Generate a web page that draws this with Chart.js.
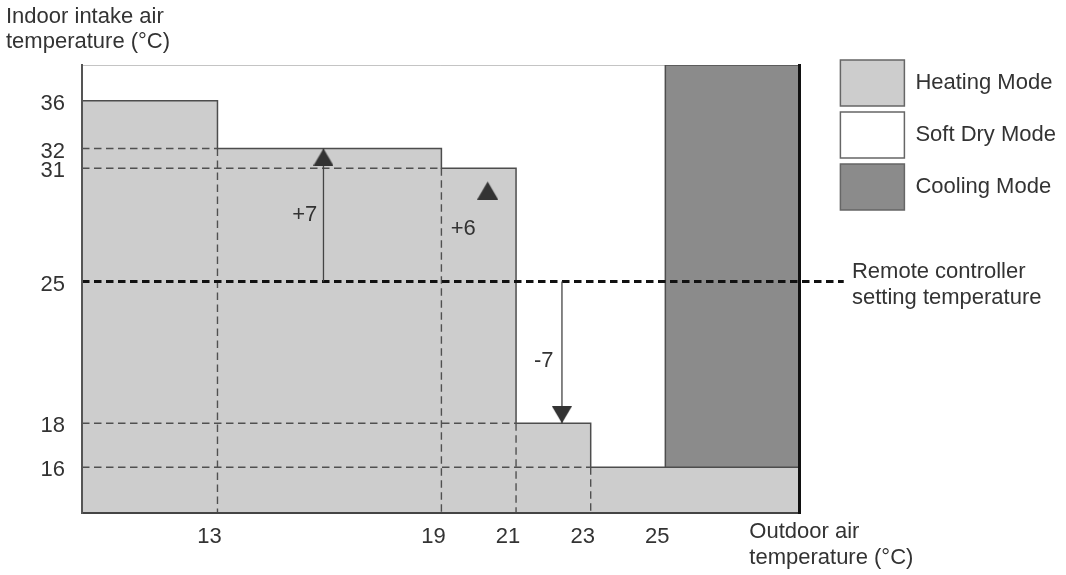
<!DOCTYPE html>
<html>
<head>
<meta charset="utf-8">
<script src="https://cdn.jsdelivr.net/npm/chart.js@4/dist/chart.umd.min.js"></script>
<style>html,body{margin:0;padding:0;background:#fff}canvas{display:block}</style>
</head>
<body>
<canvas id="c" width="1066" height="575"></canvas>
<script>
// ---------------- data ----------------
const xTicks = [13, 19, 21, 23, 25];              // outdoor air temperature ticks (°C)
const yTicks = [16, 18, 25, 31, 32, 36];          // indoor intake air temperature ticks (°C)
const heatingBreaks = [13, 19, 21, 23];           // outdoor temps where the heating limit steps down
const heatingLevels = [36, 32, 31, 18, 16];       // indoor upper limit of heating on each step
const coolingFrom = 25;                           // outdoor temp from which cooling applies
const coolingFloor = 16;                          // indoor temp above which cooling applies
const settingTemp = 25;                           // remote controller setting temperature
const shiftUp = {x: 15.84, from: 25, to: 32};     // +7 arrow
const shiftDown = {x: 22.23, from: 25, to: 18};   // -7 arrow
const shiftMarker = {x: 20.24, y: 30.3};          // +6 marker
const modeNames = ['Heating Mode', 'Soft Dry Mode', 'Cooling Mode'];
const notes = [
  {text: ['+7'], x: 15.675, y: 28.53, align: 'right'},
  {text: ['+6'], x: 19.25, y: 27.79, align: 'left'},
  {text: ['-7'], x: 21.48, y: 21.08, align: 'left'},
  {text: ['Remote controller', 'setting temperature'], x: 30.0, y: 25.52, align: 'left'}
];
const xTitle = {lines: ['Outdoor air', 'temperature (°C)'], at: 27.25};
const yTitle = ['Indoor intake air', 'temperature (°C)'];

// ---------------- axis ranges (schematic diagram) ----------------
const X_MIN = 9.37, X_MAX = 28.6, Y_MIN = 14, Y_MAX = 39;
const SETTING_LINE_END = 29.78;
// the source diagram's vertical axis is not to scale: piecewise mapping value -> fraction of height
const Y_KNOTS = [[14, 0], [16, 0.102], [18, 0.2002], [25, 0.5165], [31, 0.7694], [32, 0.8136], [36, 0.9203], [39, 1]];

function toFrac(v) {
  const k = Y_KNOTS; let i = 1;
  while (i < k.length - 1 && v > k[i][0]) i++;
  const [v0, f0] = k[i - 1], [v1, f1] = k[i];
  return f0 + (v - v0) * (f1 - f0) / (v1 - v0);
}
function fromFrac(f) {
  const k = Y_KNOTS; let i = 1;
  while (i < k.length - 1 && f > k[i][1]) i++;
  const [v0, f0] = k[i - 1], [v1, f1] = k[i];
  return v0 + (f - f0) * (v1 - v0) / (f1 - f0);
}
class SchematicScale extends Chart.LinearScale {
  getPixelForValue(value) { return this.getPixelForDecimal(toFrac(value)); }
  getValueForPixel(pixel) { return fromFrac(this.getDecimalForPixel(pixel)); }
}
SchematicScale.id = 'schematic';
SchematicScale.defaults = Chart.LinearScale.defaults;
Chart.register(SchematicScale);

const FONT = '"Liberation Sans", Arial, Helvetica, sans-serif';
const TEXT = '#333333';
Chart.defaults.font.family = FONT;
Chart.defaults.font.size = 22;
Chart.defaults.color = TEXT;

// arrow head image: tip at the centre, pointing up
function makeHead(w, h, color) {
  const c = document.createElement('canvas');
  c.width = w; c.height = 2 * h;
  const g = c.getContext('2d');
  g.fillStyle = color;
  g.beginPath(); g.moveTo(w / 2, h); g.lineTo(w, 2 * h); g.lineTo(0, 2 * h); g.closePath(); g.fill();
  return c;
}
const HEAD = makeHead(20, 17, '#333333');
const MARK = makeHead(21, 18, '#333333');

// ---------------- datasets ----------------
const heatingPoints = [{x: X_MIN, y: heatingLevels[0]}]
  .concat(heatingBreaks.map((b, i) => ({x: b, y: heatingLevels[i + 1]})))
  .concat([{x: X_MAX, y: heatingLevels[heatingLevels.length - 1]}]);

const base = {pointRadius: 0, tension: 0, fill: false};
const guides = [];
heatingBreaks.forEach((b, i) => {
  const lvl = heatingLevels[i + 1];
  [[{x: X_MIN, y: lvl}, {x: b, y: lvl}], [{x: b, y: lvl}, {x: b, y: Y_MIN}]].forEach(seg => {
    guides.push(Object.assign({}, base, {label: 'guide', data: seg, borderColor: '#505050', borderWidth: 1.4, borderDash: [7.5, 4.5], order: 2}));
  });
});

const datasets = [
  Object.assign({}, base, {label: modeNames[0], data: heatingPoints, stepped: 'before', fill: 'start',
    backgroundColor: '#cdcdcd', borderColor: '#4d4d4d', borderWidth: 1.5, order: 3, inLegend: true}),
  Object.assign({}, base, {label: modeNames[1], data: [{x: X_MIN, y: Y_MAX}, {x: X_MAX, y: Y_MAX}], fill: 'start',
    backgroundColor: '#ffffff', borderColor: '#8a8a8a', borderWidth: 1, order: 5, inLegend: true}),
  Object.assign({}, base, {label: modeNames[2], data: [{x: coolingFrom, y: coolingFloor}, {x: coolingFrom, y: Y_MAX}, {x: X_MAX, y: Y_MAX}],
    fill: {value: coolingFloor}, backgroundColor: '#8b8b8b', borderColor: '#4d4d4d', borderWidth: 1.5, order: 4, inLegend: true}),
  ...guides,
  Object.assign({}, base, {label: 'setting', data: [{x: X_MIN, y: settingTemp}, {x: SETTING_LINE_END, y: settingTemp}],
    borderColor: '#111111', borderWidth: 3, borderDash: [7.5, 4.5], clip: false, order: 1}),
  Object.assign({}, base, {label: '+7', data: [{x: shiftUp.x, y: shiftUp.from}, {x: shiftUp.x, y: shiftUp.to}],
    borderColor: '#444444', borderWidth: 1.3, pointRadius: [0, 1], pointStyle: HEAD, pointRotation: 0, order: 0}),
  Object.assign({}, base, {label: '-7', data: [{x: shiftDown.x, y: shiftDown.from}, {x: shiftDown.x, y: shiftDown.to}],
    borderColor: '#444444', borderWidth: 1.3, pointRadius: [0, 1], pointStyle: HEAD, pointRotation: 180, order: 0}),
  Object.assign({}, base, {label: '+6', data: [{x: shiftMarker.x, y: shiftMarker.y}], showLine: false,
    pointRadius: 1, pointStyle: MARK, order: 0})
];

// ---------------- text annotations ----------------
const notesPlugin = {
  id: 'notes',
  afterDatasetsDraw(chart) {
    const {ctx} = chart; const xs = chart.scales.x, ys = chart.scales.y;
    ctx.save();
    ctx.font = '22px ' + FONT; ctx.fillStyle = TEXT; ctx.textBaseline = 'middle';
    notes.forEach(n => {
      ctx.textAlign = n.align;
      const px = xs.getPixelForValue(n.x), py = ys.getPixelForValue(n.y);
      n.text.forEach((t, i) => ctx.fillText(t, px, py + i * 26.6));
    });
    ctx.textAlign = 'left';
    const tx = xs.getPixelForValue(xTitle.at);
    xTitle.lines.forEach((t, i) => ctx.fillText(t, tx, xs.top + 18.7 + i * 26.6));
    ctx.restore();
  }
};

new Chart(document.getElementById('c'), {
  type: 'line',
  data: {datasets},
  plugins: [notesPlugin],
  options: {
    responsive: false,
    animation: false,
    events: [],
    layout: {padding: {left: 6, right: 0, top: 0, bottom: 0}},
    scales: {
      x: {
        type: 'linear', min: X_MIN, max: X_MAX,
        afterBuildTicks: s => { s.ticks = xTicks.map(v => ({value: v})); },
        afterFit: s => { s.height = 62; },
        grid: {display: false, drawTicks: false},
        border: {display: true, color: '#444444', width: 2, z: 1},
        ticks: {autoSkip: false, maxRotation: 0, padding: 10.5, labelOffset: -8, color: TEXT, font: {size: 22}}
      },
      y: {
        type: 'schematic', min: Y_MIN, max: Y_MAX,
        afterBuildTicks: s => { s.ticks = yTicks.map(v => ({value: v})); },
        afterFit: s => { s.width = 76; },
        grid: {display: false, drawTicks: false},
        border: {display: true, color: '#555555', width: 2, z: 1},
        ticks: {autoSkip: false, padding: 17, labelOffset: 3, color: TEXT, font: {size: 22}}
      },
      y2: {
        type: 'linear', position: 'right', min: 0, max: 1,
        afterFit: s => { s.width = 34.7; },
        grid: {display: false, drawTicks: false},
        border: {display: true, color: '#111111', width: 3, z: 1},
        ticks: {display: false}
      }
    },
    plugins: {
      tooltip: {enabled: false},
      title: {
        display: true, text: yTitle, align: 'start', color: TEXT,
        font: {size: 22, weight: 'normal', lineHeight: 25 / 22},
        padding: {top: 4, bottom: 11}
      },
      legend: {
        position: 'right', align: 'start', fullSize: true, maxWidth: 320,
        title: {display: true, text: '', font: {size: 10, lineHeight: 1}, padding: {top: 44, bottom: 0}},
        labels: {
          boxWidth: 64, boxHeight: 46, padding: 6, color: TEXT, font: {size: 22},
          filter: (item, data) => !!data.datasets[item.datasetIndex].inLegend,
          sort: (a, b) => a.datasetIndex - b.datasetIndex,
          generateLabels: chart => Chart.defaults.plugins.legend.labels.generateLabels(chart)
            .map(l => Object.assign(l, {lineWidth: 1.5, strokeStyle: '#666666', lineDash: []}))
        }
      }
    }
  }
});
</script>
</body>
</html>
